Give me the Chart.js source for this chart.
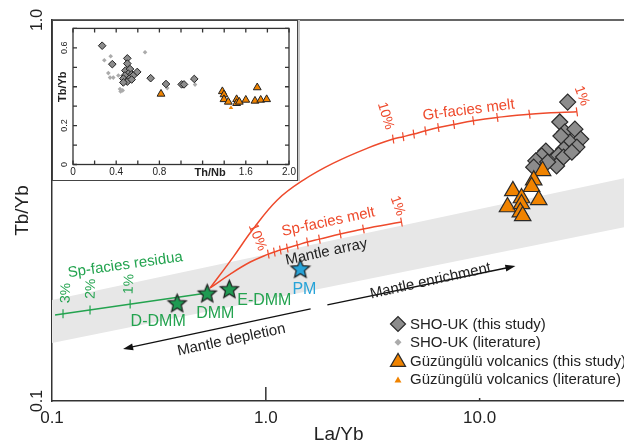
<!DOCTYPE html>
<html>
<head>
<meta charset="utf-8">
<script src="https://cdn.jsdelivr.net/npm/chart.js@4.4.1/dist/chart.umd.min.js"></script>
<style>
  html, body { margin: 0; padding: 0; background: #fff; }
  #wrap { position: relative; width: 624px; height: 444px; overflow: hidden; }
  canvas { display: block; }
  #inset { position: absolute; left: 52px; top: 20px; width: 244px; height: 159px;
           border: 1px solid #444; background: #fff; box-shadow: 2px 0 0 #c8c8c8; }
</style>
</head>
<body>
<div id="wrap">
  <canvas id="main" width="636" height="444"></canvas>
  <div id="inset"><canvas id="insetc" width="244" height="159"></canvas></div>
</div>
<script>
// ---- main diagram data (La/Yb vs Tb/Yb) ----
const shoLaYb = [25.8, 23.7, 25.0, 27.9, 29.7, 26.4, 28.5, 24.7, 23.4, 20.4, 19.5, 18.3, 17.9, 22.9, 20.8, 24.7, 27.0, 24.0];
const shoTbYb = [0.609, 0.540, 0.508, 0.517, 0.487, 0.478, 0.464, 0.458, 0.442, 0.453, 0.440, 0.427, 0.411, 0.414, 0.424, 0.437, 0.450, 0.496];
const guzLaYb = [19.7, 17.9, 17.5, 14.3, 15.7, 18.9, 13.5, 15.7, 15.5, 15.9];
const guzTbYb = [0.402, 0.380, 0.365, 0.356, 0.341, 0.337, 0.323, 0.329, 0.313, 0.306];

// mantle reservoirs
const mantleNames = ['D-DMM', 'DMM', 'E-DMM'];
const mantleLaYb = [0.385, 0.532, 0.675];
const mantleTbYb = [0.181, 0.192, 0.197];
const pmLaYb = [1.45];
const pmTbYb = [0.223];

// mantle array band
const bandLaYb = [0.1, 48];
const bandTop = [0.184, 0.385];
const bandBottom = [0.142, 0.286];

// Gt-facies melt curve (path from DMM, then 10% ... 1% ticks)
const gtLaYb = [0.549, 0.705, 0.865, 1.132, 1.498, 2.07, 2.99];
const gtTbYb = [0.198, 0.239, 0.281, 0.337, 0.380, 0.421, 0.461];
const gtTickLaYb = [3.94, 4.39, 4.92, 5.58, 6.41, 7.58, 9.34, 12.1, 17.1, 28.5];
const gtTickTbYb = [0.487, 0.494, 0.502, 0.512, 0.522, 0.532, 0.544, 0.555, 0.566, 0.574];

// Sp-facies melt curve
const spLaYb = [0.549, 0.682, 0.846];
const spTbYb = [0.198, 0.2154, 0.2316];
const spTickLaYb = [1.027, 1.096, 1.169, 1.26, 1.404, 1.565, 1.781, 2.23, 2.86, 4.31];
const spTickTbYb = [0.243, 0.246, 0.249, 0.252, 0.2567, 0.2615, 0.266, 0.2744, 0.2828, 0.2949];

// Sp-facies residua
const resLaYb = [0.1033, 0.532];
const resTbYb = [0.1682, 0.192];
const resTickLaYb = [0.1126, 0.1506, 0.232];
const resTickTbYb = [0.1694, 0.1734, 0.1796];

// ---- inset data (Th/Nb vs Tb/Yb) ----
const insShoThNb = [0.27, 0.364, 0.503, 0.503, 0.485, 0.528, 0.512, 0.481, 0.543, 0.466, 0.522, 0.559, 0.503, 0.466, 0.543, 0.595, 0.719, 0.861, 1.006, 1.028, 1.123];
const insShoTbYb = [0.611, 0.516, 0.546, 0.519, 0.483, 0.491, 0.467, 0.458, 0.463, 0.442, 0.442, 0.458, 0.426, 0.422, 0.437, 0.476, 0.444, 0.414, 0.412, 0.412, 0.440];
const insShoLitThNb = [0.29, 0.349, 0.327, 0.343, 0.373, 0.42, 0.435, 0.46, 0.441, 0.667, 0.873, 1.13];
const insShoLitTbYb = [0.536, 0.557, 0.47, 0.447, 0.447, 0.458, 0.388, 0.381, 0.376, 0.577, 0.393, 0.411];
const insGuzThNb = [0.815, 1.383, 1.398, 1.398, 1.438, 1.515, 1.515, 1.54, 1.60, 1.685, 1.706, 1.738, 1.793];
const insGuzTbYb = [0.363, 0.376, 0.36, 0.335, 0.322, 0.335, 0.315, 0.322, 0.332, 0.327, 0.396, 0.332, 0.335];
const insGuzLitThNb = [1.463];
const insGuzLitTbYb = [0.292];

const FONT = "'Liberation Sans', Arial, Helvetica, sans-serif";
const RED = '#ee4a2c', GREEN = '#23a34f', STAR_GREEN = '#1f9a52', BLUE = '#27a3d8';
const ORANGE = '#f08300', GREY = '#8c8c8c', LITGREY = '#ababab', INK = '#222';

Chart.defaults.font.family = FONT;
Chart.defaults.color = INK;

function pts(xs, ys) { return xs.map((x, i) => ({ x: x, y: ys[i] })); }

// filled five point star used as point image
function makeStar(fill, R) {
  const c = document.createElement('canvas');
  const s = Math.ceil(R * 2 + 4);
  c.width = s; c.height = s;
  const g = c.getContext('2d');
  g.beginPath();
  for (let i = 0; i < 10; i++) {
    const r = i % 2 ? R * 0.45 : R;
    const a = -Math.PI / 2 + i * Math.PI / 5;
    g.lineTo(s / 2 + r * Math.cos(a), s / 2 + 1 + r * Math.sin(a));
  }
  g.closePath();
  g.fillStyle = fill; g.fill();
  g.lineWidth = 1.2; g.strokeStyle = '#1a1a1a'; g.stroke();
  return c;
}

// text annotations (anchored in data units)
const notes = [
  { text: 'Gt-facies melt', x: 8.88, y: 0.580, rot: -7, color: RED },
  { text: '10%', x: 3.63, y: 0.560, rot: 73, color: RED, size: 14 },
  { text: '1%', x: 30.0, y: 0.632, rot: 70, color: RED, size: 14 },
  { text: 'Sp-facies melt', x: 1.96, y: 0.295, rot: -12, color: RED },
  { text: '10%', x: 0.912, y: 0.269, rot: 68, color: RED, size: 14 },
  { text: '1%', x: 4.13, y: 0.325, rot: 70, color: RED, size: 14 },
  { text: 'Sp-facies residua', x: 0.22, y: 0.2275, rot: -8, color: GREEN },
  { text: '3%', x: 0.1163, y: 0.192, rot: -88, color: GREEN, size: 14 },
  { text: '2%', x: 0.1523, y: 0.197, rot: -88, color: GREEN, size: 14 },
  { text: '1%', x: 0.2294, y: 0.2029, rot: -88, color: GREEN, size: 14 },
  { text: mantleNames[0], x: 0.3137, y: 0.1612, rot: 0, color: GREEN, size: 16 },
  { text: mantleNames[1], x: 0.58, y: 0.1692, rot: 0, color: GREEN, size: 16 },
  { text: mantleNames[2], x: 0.984, y: 0.183, rot: 0, color: GREEN, size: 16 },
  { text: 'PM', x: 1.515, y: 0.1956, rot: 0, color: BLUE, size: 16 },
  { text: 'Mantle array', x: 1.92, y: 0.246, rot: -12, color: INK },
  { text: 'Mantle enrichment', x: 5.89, y: 0.2065, rot: -12.5, color: INK },
  { text: 'Mantle depletion', x: 0.69, y: 0.1446, rot: -12, color: INK }
];
const arrows = [
  { from: [1.94, 0.1787], to: [14.7, 0.226] },
  { from: [1.62, 0.1744], to: [0.215, 0.137] }
];
const xMarks = [1, 10];
const xMarkLen = [14, 3];

// legend rows: dataset index and symbol size
const legendRows = [2, 3, 0, 1];
const legendRadius = [7.5, 3.5, 8.7, 4];

function symbol(ctx, style, r, x, y) {
  ctx.beginPath();
  if (style === 'rectRot') {
    ctx.moveTo(x - r, y); ctx.lineTo(x, y - r); ctx.lineTo(x + r, y); ctx.lineTo(x, y + r);
  } else {
    ctx.moveTo(x, y - r); ctx.lineTo(x + 0.866 * r, y + r / 2); ctx.lineTo(x - 0.866 * r, y + r / 2);
  }
  ctx.closePath();
}

const mainDecor = {
  id: 'mainDecor',
  afterDatasetsDraw(chart) {
    const { ctx, chartArea: a, scales: { x, y } } = chart;
    ctx.save();
    ctx.strokeStyle = '#333'; ctx.lineWidth = 1.5;
    ctx.beginPath(); ctx.moveTo(a.left, a.top); ctx.lineTo(a.right, a.top); ctx.stroke();
    xMarks.forEach((v, i) => {
      const p = x.getPixelForValue(v);
      ctx.beginPath(); ctx.moveTo(p, a.bottom); ctx.lineTo(p, a.bottom - xMarkLen[i]); ctx.stroke();
    });

    // arrows
    ctx.strokeStyle = '#111'; ctx.fillStyle = '#111'; ctx.lineWidth = 1.3;
    arrows.forEach(ar => {
      const x0 = x.getPixelForValue(ar.from[0]), y0 = y.getPixelForValue(ar.from[1]);
      const x1 = x.getPixelForValue(ar.to[0]), y1 = y.getPixelForValue(ar.to[1]);
      const ang = Math.atan2(y1 - y0, x1 - x0), c = Math.cos(ang), s = Math.sin(ang);
      ctx.beginPath(); ctx.moveTo(x0, y0); ctx.lineTo(x1 - 7 * c, y1 - 7 * s); ctx.stroke();
      ctx.beginPath(); ctx.moveTo(x1, y1);
      ctx.lineTo(x1 - 10 * c + 3.5 * s, y1 - 10 * s - 3.5 * c);
      ctx.lineTo(x1 - 10 * c - 3.5 * s, y1 - 10 * s + 3.5 * c);
      ctx.closePath(); ctx.fill();
    });

    // labels
    ctx.textAlign = 'center'; ctx.textBaseline = 'middle';
    notes.forEach(n => {
      ctx.save();
      ctx.translate(x.getPixelForValue(n.x), y.getPixelForValue(n.y));
      ctx.rotate(n.rot * Math.PI / 180);
      ctx.font = (n.size || 15) + 'px ' + FONT;
      ctx.fillStyle = n.color;
      ctx.fillText(n.text, 0, 0);
      ctx.restore();
    });

    // legend
    const cx = a.left + 346;
    legendRows.forEach((di, i) => {
      const ds = chart.data.datasets[di];
      const cy = a.bottom - 77 + i * 18.3;
      ctx.fillStyle = ds.pointBackgroundColor;
      symbol(ctx, ds.pointStyle, legendRadius[i], cx, cy + (ds.pointStyle === 'triangle' ? 1.5 : 0));
      ctx.fill();
      if (ds.pointBorderWidth) { ctx.lineWidth = 1.2; ctx.strokeStyle = ds.pointBorderColor; ctx.stroke(); }
      ctx.fillStyle = INK; ctx.textAlign = 'left';
      ctx.font = '15px ' + FONT;
      ctx.fillText(ds.label, cx + 12, cy + 1);
    });
    ctx.restore();
  }
};

const decadeLabel = v => Math.abs(Math.log10(v) - Math.round(Math.log10(v))) < 1e-6 ? Number(v).toFixed(1) : '';

new Chart(document.getElementById('main'), {
  type: 'scatter',
  data: {
    datasets: [
      { label: 'Güzüngülü volcanics (this study)', data: pts(guzLaYb, guzTbYb), pointStyle: 'triangle', pointRadius: 9.5,
        pointBackgroundColor: ORANGE, pointBorderColor: '#2a2a2a', pointBorderWidth: 1.2, order: 0 },
      { label: 'Güzüngülü volcanics (literature)', data: [], pointStyle: 'triangle', pointRadius: 4,
        pointBackgroundColor: ORANGE, pointBorderWidth: 0, order: 0 },
      { label: 'SHO-UK (this study)', data: pts(shoLaYb, shoTbYb), pointStyle: 'rectRot', pointRadius: 8,
        pointBackgroundColor: GREY, pointBorderColor: '#2a2a2a', pointBorderWidth: 1.2, order: 1 },
      { label: 'SHO-UK (literature)', data: [], pointStyle: 'rectRot', pointRadius: 3.5,
        pointBackgroundColor: LITGREY, pointBorderWidth: 0, order: 1 },
      { label: 'mantle', data: pts(mantleLaYb, mantleTbYb), pointStyle: makeStar(STAR_GREEN, 9.5), pointRadius: 9, order: 0 },
      { label: 'PM', data: pts(pmLaYb, pmTbYb), pointStyle: makeStar(BLUE, 9.8), pointRadius: 9, order: 0 },
      { type: 'line', label: 'gt', data: pts(gtLaYb.concat(gtTickLaYb), gtTbYb.concat(gtTickTbYb)),
        borderColor: RED, borderWidth: 1.5, pointRadius: 0, tension: 0.4, fill: false, order: 2 },
      { label: 'gt ticks', data: pts(gtTickLaYb, gtTickTbYb), pointStyle: 'line', pointRadius: 4.5, pointRotation: 82,
        pointBorderColor: RED, pointBorderWidth: 1.2, order: 2 },
      { type: 'line', label: 'sp', data: pts(spLaYb.concat(spTickLaYb), spTbYb.concat(spTickTbYb)),
        borderColor: RED, borderWidth: 1.5, pointRadius: 0, tension: 0.4, fill: false, order: 2 },
      { label: 'sp ticks', data: pts(spTickLaYb, spTickTbYb), pointStyle: 'line', pointRadius: 4.5, pointRotation: 80,
        pointBorderColor: RED, pointBorderWidth: 1.2, order: 2 },
      { type: 'line', label: 'residua', data: pts(resLaYb, resTbYb),
        borderColor: GREEN, borderWidth: 1.5, pointRadius: 0, fill: false, order: 2 },
      { label: 'residua ticks', data: pts(resTickLaYb, resTickTbYb), pointStyle: 'line', pointRadius: 4.5, pointRotation: 90,
        pointBorderColor: GREEN, pointBorderWidth: 1.2, order: 2 },
      { type: 'line', label: 'band top', data: pts(bandLaYb, bandTop), borderWidth: 0, pointRadius: 0,
        backgroundColor: '#e7e7e7', fill: '+1', order: 10 },
      { type: 'line', label: 'band bottom', data: pts(bandLaYb, bandBottom), borderWidth: 0, pointRadius: 0,
        fill: false, order: 10 }
    ]
  },
  options: {
    responsive: false,
    animation: false,
    devicePixelRatio: 1,
    layout: { padding: { top: 20, right: 0, bottom: 0, left: 0 } },
    plugins: { legend: { display: false }, tooltip: { enabled: false } },
    scales: {
      x: {
        type: 'logarithmic', min: 0.1, max: 48,
        grid: { display: false, drawTicks: false },
        border: { display: true, color: '#333', width: 1.5 },
        ticks: { autoSkip: false, maxRotation: 0, padding: 7, color: INK, font: { size: 17 }, callback: decadeLabel },
        title: { display: true, text: 'La/Yb', color: INK, font: { size: 19, lineHeight: 1 }, padding: 0 },
        afterFit: s => { s.height = 43; s.paddingLeft = 0; s.paddingRight = 0; }
      },
      y: {
        type: 'logarithmic', min: 0.1, max: 1,
        grid: { display: false, drawTicks: false },
        border: { display: true, color: '#333', width: 1.5 },
        ticks: { autoSkip: false, minRotation: 90, maxRotation: 90, crossAlign: 'center', padding: 3,
                 color: INK, font: { size: 16 }, callback: decadeLabel },
        title: { display: true, text: 'Tb/Yb', color: INK, font: { size: 19, lineHeight: 1 }, padding: { top: 13, bottom: 13 } },
        afterFit: s => { s.width = 52; }
      }
    }
  },
  plugins: [mainDecor]
});

// ---- inset ----
const insetXTitle = { text: 'Th/Nb', at: 1.27 };
const insetYTitle = { text: 'Tb/Yb', at: 0.4 };
const insetXLabels = { '0': '0', '0.4': '0.4', '0.8': '0.8', '1.6': '1.6', '2': '2.0' };
const insetYLabels = { '0': '0', '0.2': '0.2', '0.6': '0.6' };

const insetDecor = {
  id: 'insetDecor',
  afterDraw(chart) {
    const { ctx, chartArea: a, scales: { x, y } } = chart;
    ctx.save();
    ctx.strokeStyle = '#333'; ctx.lineWidth = 1.3;
    ctx.strokeRect(a.left, a.top, a.right - a.left, a.bottom - a.top);
    ctx.beginPath();
    x.ticks.forEach(t => {
      const p = x.getPixelForValue(t.value);
      ctx.moveTo(p, a.bottom); ctx.lineTo(p, a.bottom - 4);
      ctx.moveTo(p, a.top); ctx.lineTo(p, a.top + 4);
    });
    y.ticks.forEach(t => {
      const p = y.getPixelForValue(t.value);
      ctx.moveTo(a.left, p); ctx.lineTo(a.left + 4, p);
      ctx.moveTo(a.right, p); ctx.lineTo(a.right - 4, p);
    });
    ctx.stroke();
    ctx.fillStyle = INK; ctx.font = 'bold 11px ' + FONT;
    ctx.textAlign = 'center'; ctx.textBaseline = 'middle';
    ctx.fillText(insetXTitle.text, x.getPixelForValue(insetXTitle.at), a.bottom + 8);
    ctx.translate(a.left - 10, y.getPixelForValue(insetYTitle.at));
    ctx.rotate(-Math.PI / 2);
    ctx.fillText(insetYTitle.text, 0, 0);
    ctx.restore();
  }
};

const r1 = v => String(Math.round(v * 10) / 10);

new Chart(document.getElementById('insetc'), {
  type: 'scatter',
  data: {
    datasets: [
      { label: 'Güzüngülü volcanics (this study)', data: pts(insGuzThNb, insGuzTbYb), pointStyle: 'triangle', pointRadius: 4.5,
        pointBackgroundColor: ORANGE, pointBorderColor: '#222', pointBorderWidth: 1, order: 0 },
      { label: 'Güzüngülü volcanics (literature)', data: pts(insGuzLitThNb, insGuzLitTbYb), pointStyle: 'triangle', pointRadius: 2.6,
        pointBackgroundColor: ORANGE, pointBorderWidth: 0, order: 0 },
      { label: 'SHO-UK (this study)', data: pts(insShoThNb, insShoTbYb), pointStyle: 'rectRot', pointRadius: 3.8,
        pointBackgroundColor: GREY, pointBorderColor: '#222', pointBorderWidth: 1, order: 1 },
      { label: 'SHO-UK (literature)', data: pts(insShoLitThNb, insShoLitTbYb), pointStyle: 'rectRot', pointRadius: 2.3,
        pointBackgroundColor: LITGREY, pointBorderWidth: 0, order: 2 }
    ]
  },
  options: {
    responsive: false,
    animation: false,
    devicePixelRatio: 1,
    layout: { padding: { top: 2, right: 8, bottom: 0, left: 0 } },
    plugins: { legend: { display: false }, tooltip: { enabled: false } },
    scales: {
      x: {
        type: 'linear', min: 0, max: 2,
        grid: { display: false, drawTicks: false }, border: { display: false },
        ticks: { stepSize: 0.2, autoSkip: false, maxRotation: 0, padding: 2, color: INK, font: { size: 10 },
                 callback: v => insetXLabels[r1(v)] || '' },
        afterFit: s => { s.height = 15.5; s.paddingLeft = 0; s.paddingRight = 0; }
      },
      y: {
        type: 'linear', min: 0, max: 0.7,
        grid: { display: false, drawTicks: false }, border: { display: false },
        ticks: { stepSize: 0.1, autoSkip: false, minRotation: 90, maxRotation: 90, crossAlign: 'center', padding: 2,
                 color: INK, font: { size: 9 }, callback: v => insetYLabels[r1(v)] || '' },
        afterFit: s => { s.width = 20; }
      }
    }
  },
  plugins: [insetDecor]
});
</script>
</body>
</html>
